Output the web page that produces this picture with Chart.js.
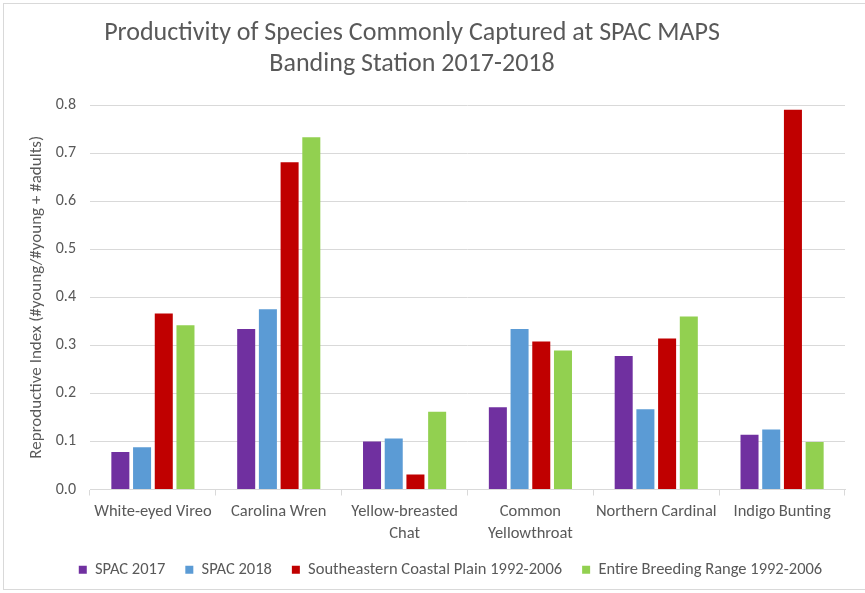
<!DOCTYPE html>
<html>
<head>
<meta charset="utf-8">
<script src="https://cdn.jsdelivr.net/npm/chart.js@4"></script>
<style>
  html, body { margin: 0; padding: 0; background: #fff; }
  #wrap { width: 865px; height: 593px; }
</style>
</head>
<body>
<div id="wrap"><canvas id="chart" width="865" height="593"></canvas></div>
<script>
const FONT = "Carlito, Calibri, Lato, sans-serif";
const GREY = "#595959";

const species = [
  "White-eyed Vireo",
  "Carolina Wren",
  ["Yellow-breasted", "Chat"],
  ["Common", "Yellowthroat"],
  "Northern Cardinal",
  "Indigo Bunting"
];
const spac2017 = [0.078, 0.334, 0.100, 0.171, 0.278, 0.114];
const spac2018 = [0.088, 0.375, 0.106, 0.334, 0.167, 0.125];
const coastalPlain = [0.366, 0.681, 0.031, 0.308, 0.314, 0.790];
const breedingRange = [0.342, 0.733, 0.162, 0.289, 0.360, 0.099];
const seriesNames = [
  "SPAC 2017",
  "SPAC 2018",
  "Southeastern Coastal Plain 1992-2006",
  "Entire Breeding Range 1992-2006"
];
const titleLines = [
  "Productivity of Species Commonly Captured at SPAC MAPS",
  "Banding Station 2017-2018"
];
const yTicks = [0, 0.1, 0.2, 0.3, 0.4, 0.5, 0.6, 0.7, 0.8];

const colors = ["#7030A0", "#5B9BD5", "#C00000", "#92D050"];
const values = [spac2017, spac2018, coastalPlain, breedingRange];

// frame and two-line title drawn off-centre like the original
const frameAndTitle = {
  id: "frameAndTitle",
  beforeDraw(chart) {
    const c = chart.ctx;
    c.save();
    c.strokeStyle = "#D9D9D9";
    c.lineWidth = 1;
    c.strokeRect(3.5, 3.5, 900, 586);
    c.restore();
  },
  afterDraw(chart) {
    const c = chart.ctx;
    c.save();
    c.fillStyle = GREY;
    c.font = "26px " + FONT;
    c.textAlign = "center";
    c.textBaseline = "middle";
    c.fillText(titleLines[0], 412, 33);
    c.fillText(titleLines[1], 412, 64);
    c.restore();
  }
};

new Chart(document.getElementById("chart").getContext("2d"), {
  type: "bar",
  data: {
    labels: species,
    datasets: seriesNames.map((name, i) => ({
      label: name,
      data: values[i],
      backgroundColor: colors[i],
      borderWidth: 0,
      categoryPercentage: 0.69,
      barPercentage: 0.83
    }))
  },
  options: {
    responsive: false,
    animation: false,
    layout: { padding: { left: 56, right: 20, top: 105, bottom: 5 } },
    plugins: {
      title: { display: false },
      tooltip: { enabled: false },
      legend: {
        position: "bottom",
        labels: {
          color: GREY,
          font: { family: FONT, size: 16.5 },
          boxWidth: 8,
          boxHeight: 8,
          padding: 20
        }
      }
    },
    scales: {
      x: {
        grid: {
          drawOnChartArea: false,
          drawTicks: true,
          tickLength: 6,
          color: "#D9D9D9"
        },
        border: { color: "#D9D9D9" },
        ticks: {
          color: GREY,
          font: { family: FONT, size: 16.5, lineHeight: 1.3 },
          padding: 6,
          maxRotation: 0,
          autoSkip: false
        },
        afterFit(scale) { scale.height = 52; }
      },
      y: {
        min: 0,
        max: 0.8,
        afterBuildTicks(scale) { scale.ticks = yTicks.map(v => ({ value: v })); },
        grid: { color: "#D9D9D9", drawTicks: false },
        border: { display: false },
        ticks: {
          color: GREY,
          font: { family: FONT, size: 16 },
          padding: 14,
          callback: v => v.toFixed(1)
        },
        title: {
          display: true,
          text: "Reproductive Index (#young/#young + #adults)",
          color: GREY,
          font: { family: FONT, size: 17 },
          padding: { top: -29, bottom: 0 }
        },
        afterFit(scale) { scale.width = 34; }
      }
    }
  },
  plugins: [frameAndTitle]
});
</script>
</body>
</html>
